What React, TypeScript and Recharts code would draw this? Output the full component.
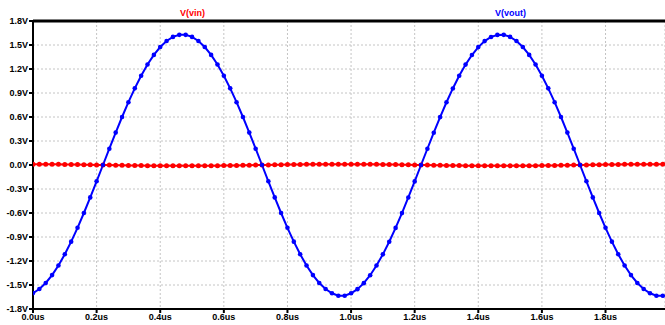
import {
  LineChart,
  Line,
  XAxis,
  YAxis,
  CartesianGrid,
  ReferenceLine,
} from "recharts";

// time axis, in microseconds
const times = [
  0.0, 0.02, 0.04, 0.06, 0.08, 0.1, 0.12, 0.14, 0.16, 0.18,
  0.2, 0.22, 0.24, 0.26, 0.28, 0.3, 0.32, 0.34, 0.36, 0.38,
  0.4, 0.42, 0.44, 0.46, 0.48, 0.5, 0.52, 0.54, 0.56, 0.58,
  0.6, 0.62, 0.64, 0.66, 0.68, 0.7, 0.72, 0.74, 0.76, 0.78,
  0.8, 0.82, 0.84, 0.86, 0.88, 0.9, 0.92, 0.94, 0.96, 0.98,
  1.0, 1.02, 1.04, 1.06, 1.08, 1.1, 1.12, 1.14, 1.16, 1.18,
  1.2, 1.22, 1.24, 1.26, 1.28, 1.3, 1.32, 1.34, 1.36, 1.38,
  1.4, 1.42, 1.44, 1.46, 1.48, 1.5, 1.52, 1.54, 1.56, 1.58,
  1.6, 1.62, 1.64, 1.66, 1.68, 1.7, 1.72, 1.74, 1.76, 1.78,
  1.8, 1.82, 1.84, 1.86, 1.88, 1.9, 1.92, 1.94, 1.96, 1.98,
];

// V(vout)
const vout = [
  -1.601, -1.55, -1.475, -1.376, -1.256, -1.116, -0.958, -0.785, -0.6, -0.405,
  -0.204, 0.0, 0.204, 0.405, 0.6, 0.785, 0.958, 1.116, 1.256, 1.376,
  1.475, 1.55, 1.601, 1.627, 1.627, 1.601, 1.55, 1.475, 1.376, 1.256,
  1.116, 0.958, 0.785, 0.6, 0.405, 0.204, 0.0, -0.204, -0.405, -0.6,
  -0.785, -0.958, -1.116, -1.256, -1.376, -1.475, -1.55, -1.603, -1.635, -1.635,
  -1.603, -1.552, -1.477, -1.378, -1.257, -1.117, -0.959, -0.786, -0.601, -0.406,
  -0.205, 0.0, 0.203, 0.404, 0.599, 0.784, 0.957, 1.115, 1.255, 1.375,
  1.474, 1.549, 1.6, 1.626, 1.627, 1.601, 1.55, 1.475, 1.376, 1.256,
  1.116, 0.958, 0.785, 0.6, 0.405, 0.204, 0.0, -0.204, -0.405, -0.6,
  -0.785, -0.958, -1.116, -1.256, -1.376, -1.475, -1.55, -1.603, -1.635, -1.635,
];

// V(vin)
const vin = [
  0.01, 0.009, 0.009, 0.008, 0.008, 0.007, 0.006, 0.005, 0.004, 0.002,
  0.001, 0.0, -0.001, -0.002, -0.004, -0.005, -0.006, -0.007, -0.008, -0.008,
  -0.009, -0.009, -0.01, -0.01, -0.01, -0.01, -0.009, -0.009, -0.008, -0.008,
  -0.007, -0.006, -0.005, -0.004, -0.002, -0.001, 0.0, 0.001, 0.002, 0.004,
  0.005, 0.006, 0.007, 0.008, 0.008, 0.009, 0.009, 0.01, 0.01, 0.01,
  0.01, 0.009, 0.009, 0.008, 0.008, 0.007, 0.006, 0.005, 0.004, 0.002,
  0.001, 0.0, -0.001, -0.002, -0.004, -0.005, -0.006, -0.007, -0.008, -0.008,
  -0.009, -0.009, -0.01, -0.01, -0.01, -0.01, -0.009, -0.009, -0.008, -0.008,
  -0.007, -0.006, -0.005, -0.004, -0.002, -0.001, 0.0, 0.001, 0.002, 0.004,
  0.005, 0.006, 0.007, 0.008, 0.008, 0.009, 0.009, 0.01, 0.01, 0.01,
];

const xTicks = [0, 0.2, 0.4, 0.6, 0.8, 1.0, 1.2, 1.4, 1.6, 1.8];
const yTicks = [-1.8, -1.5, -1.2, -0.9, -0.6, -0.3, 0, 0.3, 0.6, 0.9, 1.2, 1.5, 1.8];

const data = times.map((t, i) => ({ t, vin: vin[i], vout: vout[i] }));

const font = "'Liberation Sans', Arial, sans-serif";
const labelStyle = {
  position: "absolute" as const,
  top: 8,
  fontFamily: font,
  fontSize: 9,
  fontWeight: "bold" as const,
  lineHeight: "11px",
};

export default function App() {
  return (
    <div style={{ position: "absolute", left: 0, top: 0, width: 665, height: 325, background: "#fff" }}>
      <LineChart
        width={665}
        height={325}
        data={data}
        margin={{ top: 21, right: 0, left: 0, bottom: 0 }}
      >
        <CartesianGrid stroke="#c4c4c4" strokeDasharray="2 2" />
        <XAxis
          dataKey="t"
          type="number"
          domain={[0, 1.987]}
          ticks={xTicks}
          tickFormatter={(v: number) => `${v.toFixed(1)}us`}
          height={16}
          tickSize={4}
          tickMargin={1}
          axisLine={{ stroke: "#000", strokeWidth: 2 }}
          tickLine={{ stroke: "#000", strokeWidth: 2 }}
          tick={{ fill: "#000", fontSize: 9, fontWeight: "bold", fontFamily: font }}
          allowDataOverflow
        />
        <YAxis
          type="number"
          domain={[-1.8, 1.8]}
          ticks={yTicks}
          tickFormatter={(v: number) => `${v.toFixed(1)}V`}
          width={33}
          tickSize={4}
          tickMargin={1}
          axisLine={{ stroke: "#000", strokeWidth: 2 }}
          tickLine={{ stroke: "#000", strokeWidth: 2 }}
          tick={{ fill: "#000", fontSize: 9, fontWeight: "bold", fontFamily: font }}
          interval={0}
        />
        <ReferenceLine y={1.8} stroke="#000" strokeWidth={3} />
        <Line
          dataKey="vin"
          stroke="#ff0000"
          strokeWidth={2}
          dot={{ r: 2.5, fill: "#ff0000", stroke: "none" }}
          isAnimationActive={false}
        />
        <Line
          dataKey="vout"
          stroke="#0000ff"
          strokeWidth={2}
          dot={{ r: 2.3, fill: "#0000ff", stroke: "none" }}
          isAnimationActive={false}
        />
      </LineChart>
      <span style={{ ...labelStyle, left: 180, color: "#ff0000" }}>V(vin)</span>
      <span style={{ ...labelStyle, left: 495, color: "#0000ff" }}>V(vout)</span>
    </div>
  );
}
